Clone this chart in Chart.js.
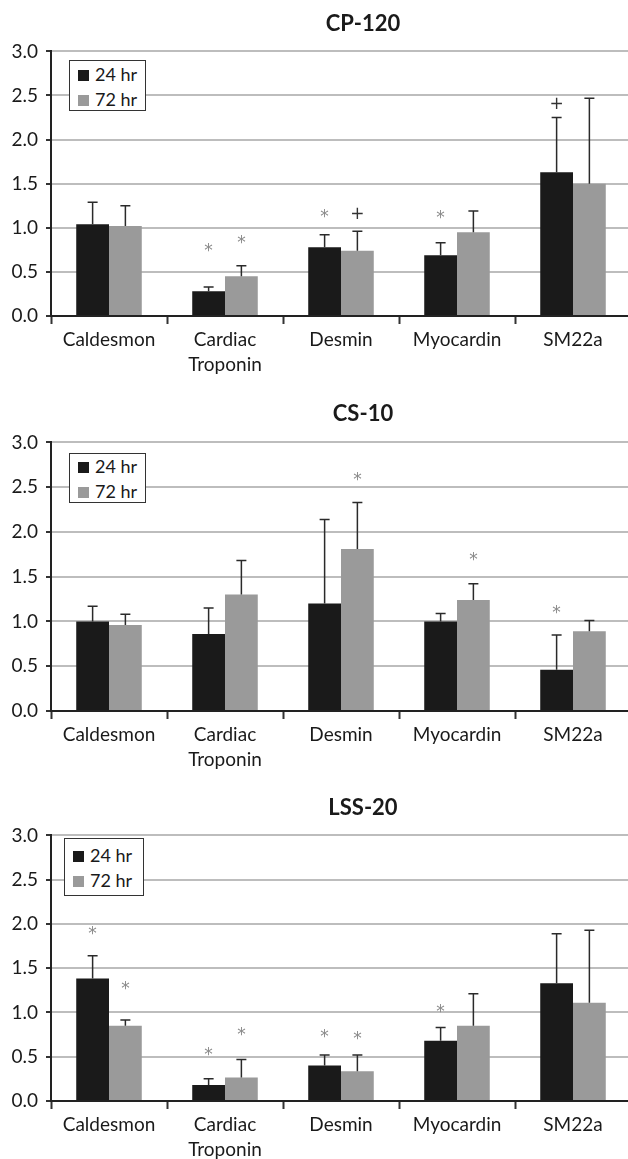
<!DOCTYPE html>
<html>
<head>
<meta charset="utf-8">
<script src="https://cdn.jsdelivr.net/npm/chart.js@4.4.1/dist/chart.umd.min.js"></script>
<style>
  html, body { margin: 0; padding: 0; background: #fff; overflow: hidden; }
  body { width: 628px; height: 1159px; position: relative; font-family: Lato, sans-serif; color: #1a1a1a; }
  .panel { position: absolute; left: 0; width: 628px; overflow: hidden; }
  .title { position: absolute; left: 263px; width: 200px; text-align: center; font-size: 22px; font-weight: bold; line-height: 28px; }
  .legend { position: absolute; border: 1.5px solid #333; background: #fff; font-size: 18px; line-height: 25px; padding: 0 0 0 8px; box-sizing: border-box; }
  .legend .sw { display: inline-block; width: 11px; height: 11px; margin-right: 6px; }
</style>
</head>
<body>
<script>
const categories = ['Caldesmon', ['Cardiac', 'Troponin'], 'Desmin', 'Myocardin', 'SM22a'];
const seriesLabels = ['24 hr', '72 hr'];
const seriesColors = ['#1a1a1a', '#9a9a9a'];
const yTicks = [0, 0.5, 1, 1.5, 2, 2.5, 3];

// CP-120
const cp120_24 = [1.04, 0.28, 0.78, 0.69, 1.63];
const cp120_24_sd = [0.25, 0.05, 0.14, 0.14, 0.62];
const cp120_72 = [1.02, 0.45, 0.74, 0.95, 1.50];
const cp120_72_sd = [0.23, 0.12, 0.22, 0.24, 0.97];
const cp120_24_mark = ['', '*', '*', '*', '+'];
const cp120_24_markAt = [null, 0.78, 1.16, 1.15, 2.41];
const cp120_72_mark = ['', '*', '+', '', ''];
const cp120_72_markAt = [null, 0.87, 1.17, null, null];

// CS-10
const cs10_24 = [1.00, 0.86, 1.20, 1.00, 0.46];
const cs10_24_sd = [0.17, 0.29, 0.94, 0.09, 0.39];
const cs10_72 = [0.96, 1.30, 1.81, 1.24, 0.89];
const cs10_72_sd = [0.12, 0.38, 0.52, 0.18, 0.12];
const cs10_24_mark = ['', '', '', '', '*'];
const cs10_24_markAt = [null, null, null, null, 1.13];
const cs10_72_mark = ['', '', '*', '*', ''];
const cs10_72_markAt = [null, null, 2.62, 1.73, null];

// LSS-20
const lss20_24 = [1.385, 0.18, 0.40, 0.68, 1.33];
const lss20_24_sd = [0.255, 0.07, 0.12, 0.15, 0.56];
const lss20_72 = [0.85, 0.265, 0.335, 0.85, 1.11];
const lss20_72_sd = [0.065, 0.205, 0.185, 0.36, 0.82];
const lss20_24_mark = ['*', '*', '*', '*', ''];
const lss20_24_markAt = [1.93, 0.556, 0.76, 1.05, null];
const lss20_72_mark = ['*', '*', '*', '', ''];
const lss20_72_markAt = [1.30, 0.78, 0.74, null, null];

const panels = [
  { title: 'CP-120', a: cp120_24, aSd: cp120_24_sd, aMark: cp120_24_mark, aAt: cp120_24_markAt,
    b: cp120_72, bSd: cp120_72_sd, bMark: cp120_72_mark, bAt: cp120_72_markAt,
    plotTop: 42, plotH: 274, titleY: 23, legend: [69, 60, 77, 51] },
  { title: 'CS-10', a: cs10_24, aSd: cs10_24_sd, aMark: cs10_24_mark, aAt: cs10_24_markAt,
    b: cs10_72, bSd: cs10_72_sd, bMark: cs10_72_mark, bAt: cs10_72_markAt,
    plotTop: 433, plotH: 278, titleY: 413, legend: [69, 453, 77, 50] },
  { title: 'LSS-20', a: lss20_24, aSd: lss20_24_sd, aMark: lss20_24_mark, aAt: lss20_24_markAt,
    b: lss20_72, bSd: lss20_72_sd, bMark: lss20_72_mark, bAt: lss20_72_markAt,
    plotTop: 826, plotH: 275, titleY: 807, legend: [64, 838, 80, 58] }
];

// one-sided error bars plus significance marks
const errorBars = {
  id: 'errorBars',
  afterDatasetsDraw(chart) {
    const ctx = chart.ctx;
    const y = chart.scales.y;
    chart.data.datasets.forEach((ds, i) => {
      chart.getDatasetMeta(i).data.forEach((bar, j) => {
        const top = y.getPixelForValue(ds.data[j] + ds.sd[j]);
        ctx.save();
        ctx.strokeStyle = '#2a2a2a';
        ctx.lineWidth = 1.5;
        ctx.beginPath();
        ctx.moveTo(bar.x, bar.y);
        ctx.lineTo(bar.x, top);
        ctx.moveTo(bar.x - 5, top);
        ctx.lineTo(bar.x + 5, top);
        ctx.stroke();
        const m = ds.mark[j];
        if (m) {
          ctx.font = '17px "DejaVu Sans"';
          ctx.fillStyle = m === '*' ? '#8a8a8a' : '#333';
          ctx.textAlign = 'center';
          ctx.textBaseline = 'alphabetic';
          const tm = ctx.measureText(m);
          const cy = y.getPixelForValue(ds.markAt[j]);
          ctx.fillText(m, bar.x, cy + (tm.actualBoundingBoxAscent - tm.actualBoundingBoxDescent) / 2);
        }
        ctx.restore();
      });
    });
  }
};

panels.forEach(p => {
  const h = 10 + p.plotH + 60;
  const div = document.createElement('div');
  div.className = 'panel';
  div.style.top = (p.plotTop - 10) + 'px';
  div.style.height = h + 'px';
  const canvas = document.createElement('canvas');
  canvas.width = 640;
  canvas.height = h;
  div.appendChild(canvas);
  document.body.appendChild(div);

  const t = document.createElement('div');
  t.className = 'title';
  t.textContent = p.title;
  t.style.top = (p.titleY - 14) + 'px';
  document.body.appendChild(t);

  const lg = document.createElement('div');
  lg.className = 'legend';
  lg.style.left = p.legend[0] + 'px';
  lg.style.top = p.legend[1] + 'px';
  lg.style.width = p.legend[2] + 'px';
  lg.style.height = p.legend[3] + 'px';
  lg.style.paddingTop = ((p.legend[3] - 50) / 2) + 'px';
  seriesLabels.forEach((s, i) => {
    const row = document.createElement('div');
    row.innerHTML = '<span class="sw" style="background:' + seriesColors[i] + '"></span>' + s;
    lg.appendChild(row);
  });
  document.body.appendChild(lg);

  new Chart(canvas.getContext('2d'), {
    type: 'bar',
    data: {
      labels: categories,
      datasets: [
        { label: seriesLabels[0], data: p.a, sd: p.aSd, mark: p.aMark, markAt: p.aAt,
          backgroundColor: seriesColors[0], barPercentage: 1, categoryPercentage: 0.565 },
        { label: seriesLabels[1], data: p.b, sd: p.bSd, mark: p.bMark, markAt: p.bAt,
          backgroundColor: seriesColors[1], barPercentage: 1, categoryPercentage: 0.565 }
      ]
    },
    options: {
      responsive: false,
      animation: false,
      layout: { padding: { top: 10, right: 9, left: 0, bottom: 0 } },
      plugins: { legend: { display: false }, tooltip: { enabled: false } },
      scales: {
        x: {
          afterFit: s => { s.height = 60; },
          grid: { offset: true, drawOnChartArea: false, tickLength: 8, tickColor: '#333', tickWidth: 2 },
          border: { color: '#222', width: 2 },
          ticks: { color: '#1a1a1a', padding: 3, maxRotation: 0, font: { family: 'Lato', size: 19, lineHeight: 1.32 } }
        },
        y: {
          min: 0, max: 3,
          afterFit: s => { s.width = 51; },
          afterBuildTicks: s => { s.ticks = yTicks.map(v => ({ value: v })); },
          grid: { color: '#bdbdbd', lineWidth: 2, tickColor: '#333', tickLength: 5, tickWidth: 2 },
          border: { color: '#222', width: 2 },
          ticks: { color: '#1a1a1a', padding: 8, font: { family: 'Lato', size: 19 }, callback: v => v.toFixed(1) }
        }
      }
    },
    plugins: [errorBars]
  });
});
</script>
</body>
</html>
